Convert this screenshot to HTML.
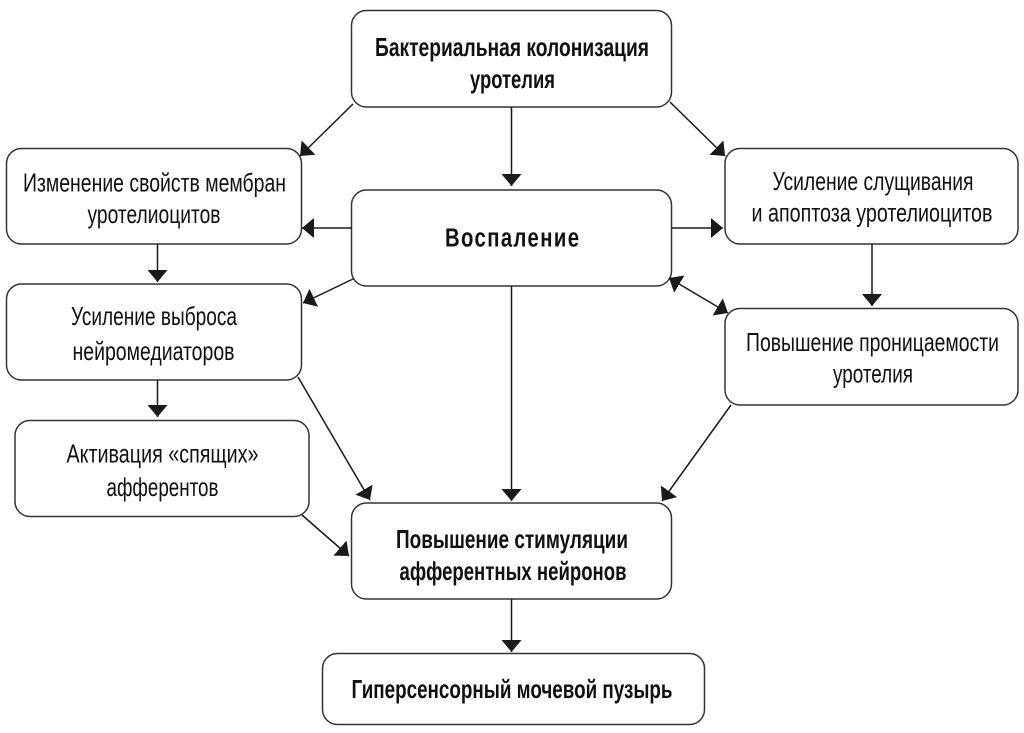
<!DOCTYPE html>
<html>
<head>
<meta charset="utf-8">
<style>
html,body{margin:0;padding:0;background:#fff;}
svg{display:block;}
text{font-family:"Liberation Sans","DejaVu Sans",sans-serif;font-size:26px;fill:#111;}
.b{font-weight:bold;}
</style>
</head>
<body>
<svg width="1024" height="733" viewBox="0 0 1024 733" xmlns="http://www.w3.org/2000/svg">
<defs>
<marker id="ah" viewBox="0 0 12 20" refX="12" refY="10" markerWidth="12" markerHeight="20" markerUnits="userSpaceOnUse" orient="auto-start-reverse">
<path d="M0,0 L12,10 L0,20 z" fill="#1a1a1a"/>
</marker>
</defs>
<rect x="0" y="0" width="1024" height="733" fill="#fff"/>
<g fill="#fff" stroke="#333" stroke-width="1.5">
<rect x="351.5" y="10.5" width="320" height="96.5" rx="15"/>
<rect x="6.5" y="148.5" width="295" height="95.5" rx="15"/>
<rect x="351.5" y="190" width="320" height="96" rx="15"/>
<rect x="725" y="148.5" width="293" height="95.5" rx="15"/>
<rect x="6.5" y="284" width="295" height="96" rx="15"/>
<rect x="725" y="308.5" width="293" height="96.5" rx="15"/>
<rect x="15" y="420.5" width="294" height="96" rx="15"/>
<rect x="351.5" y="503" width="320" height="96" rx="15"/>
<rect x="322.5" y="653.5" width="382" height="71" rx="15"/>
</g>
<g stroke="#1a1a1a" stroke-width="1.5" fill="none" marker-end="url(#ah)">
<line x1="511.5" y1="107" x2="511.5" y2="186"/>
<line x1="353" y1="104" x2="300" y2="156"/>
<line x1="670" y1="102" x2="725" y2="156"/>
<line x1="352" y1="228" x2="302" y2="228"/>
<line x1="672" y1="228" x2="723" y2="228"/>
<line x1="353" y1="279" x2="303" y2="303"/>
<line x1="669" y1="278" x2="728" y2="313" marker-start="url(#ah)"/>
<line x1="511.5" y1="286" x2="511.5" y2="501"/>
<line x1="157.5" y1="244" x2="157.5" y2="282"/>
<line x1="157.5" y1="380" x2="157.5" y2="417"/>
<line x1="872" y1="244" x2="872" y2="306"/>
<line x1="298" y1="377" x2="370" y2="500"/>
<line x1="302" y1="515" x2="349" y2="556"/>
<line x1="731" y1="405" x2="662" y2="501"/>
<line x1="511.5" y1="599" x2="511.5" y2="652"/>
</g>
<text class="b" x="375" y="56" textLength="274" lengthAdjust="spacingAndGlyphs">Бактериальная колонизация</text>
<text class="b" x="470" y="88" textLength="85" lengthAdjust="spacingAndGlyphs">уротелия</text>
<text class="b" transform="translate(445,246.5) scale(0.78,1)" x="0" y="0" textLength="171.8" lengthAdjust="spacing">Воспаление</text>
<text x="23" y="191.5" textLength="263" lengthAdjust="spacingAndGlyphs">Изменение свойств мембран</text>
<text x="87.5" y="223" textLength="133" lengthAdjust="spacingAndGlyphs">уротелиоцитов</text>
<text x="71" y="325" textLength="166" lengthAdjust="spacingAndGlyphs">Усиление выброса</text>
<text x="72.5" y="360" textLength="162" lengthAdjust="spacingAndGlyphs">нейромедиаторов</text>
<text x="66.5" y="462.5" textLength="192" lengthAdjust="spacingAndGlyphs">Активация «спящих»</text>
<text x="106.5" y="496" textLength="112" lengthAdjust="spacingAndGlyphs">афферентов</text>
<text x="772.5" y="190" textLength="201" lengthAdjust="spacingAndGlyphs">Усиление слущивания</text>
<text x="751.5" y="221.5" textLength="241" lengthAdjust="spacingAndGlyphs">и апоптоза уротелиоцитов</text>
<text x="746" y="351" textLength="253" lengthAdjust="spacingAndGlyphs">Повышение проницаемости</text>
<text x="833" y="382.5" textLength="80" lengthAdjust="spacingAndGlyphs">уротелия</text>
<text class="b" x="396" y="548" textLength="232" lengthAdjust="spacingAndGlyphs">Повышение стимуляции</text>
<text class="b" x="399.5" y="580" textLength="227" lengthAdjust="spacingAndGlyphs">афферентных нейронов</text>
<text class="b" x="351.5" y="698" textLength="321" lengthAdjust="spacingAndGlyphs">Гиперсенсорный мочевой пузырь</text>
</svg>
</body>
</html>
